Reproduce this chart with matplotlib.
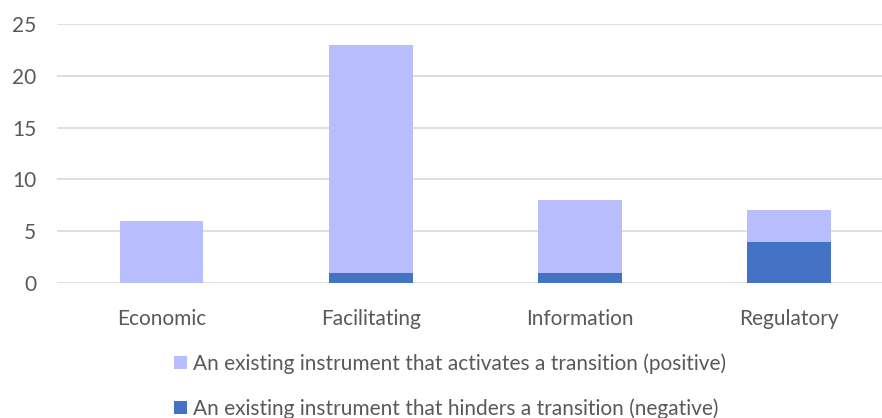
import numpy as np
import matplotlib.pyplot as plt

categories = ["Economic", "Facilitating", "Information", "Regulatory"]
negative = [0, 1, 1, 4]
positive = [6, 22, 7, 3]
y_ticks = [0, 5, 10, 15, 20, 25]

label_pos = "An existing instrument that activates a transition (positive)"
label_neg = "An existing instrument that hinders a transition (negative)"

light = "#B7BDFD"
dark = "#4472C4"
text_col = "#595959"

plt.rcParams["font.family"] = ["Lato", "DejaVu Sans"]

fig = plt.figure(figsize=(8.82, 4.18), dpi=100)
ax = fig.add_axes([57 / 882, 0.323, 1 - 57 / 882, 0.6196])

x = np.arange(len(categories))
width = 0.40
b_neg = ax.bar(x, negative, width, color=dark, zorder=3, label=label_neg)
b_pos = ax.bar(x, positive, width, bottom=negative, color=light, zorder=3, label=label_pos)

ax.set_xlim(-0.5, 3.445)
ax.set_ylim(0, 25)
ax.set_yticks(y_ticks)
ax.set_xticks(x)
ax.set_xticklabels(categories)
ax.yaxis.grid(True, color="#D9D9D9", linewidth=1.2, zorder=0)
for s in ax.spines.values():
    s.set_visible(False)
ax.tick_params(length=0, labelsize=15, colors=text_col)
ax.tick_params(axis="x", pad=19)
ax.tick_params(axis="y", pad=15)

fig.legend(handles=[b_pos, b_neg], labels=[label_pos, label_neg],
           loc="upper left", bbox_to_anchor=(174 / 882, 1 - 353 / 418),
           frameon=False, fontsize=15, labelcolor=text_col,
           handlelength=0.6, handleheight=0.6, handletextpad=0.3,
           labelspacing=1.2, borderpad=0, borderaxespad=0)

fig.savefig("out.png", dpi=100)
